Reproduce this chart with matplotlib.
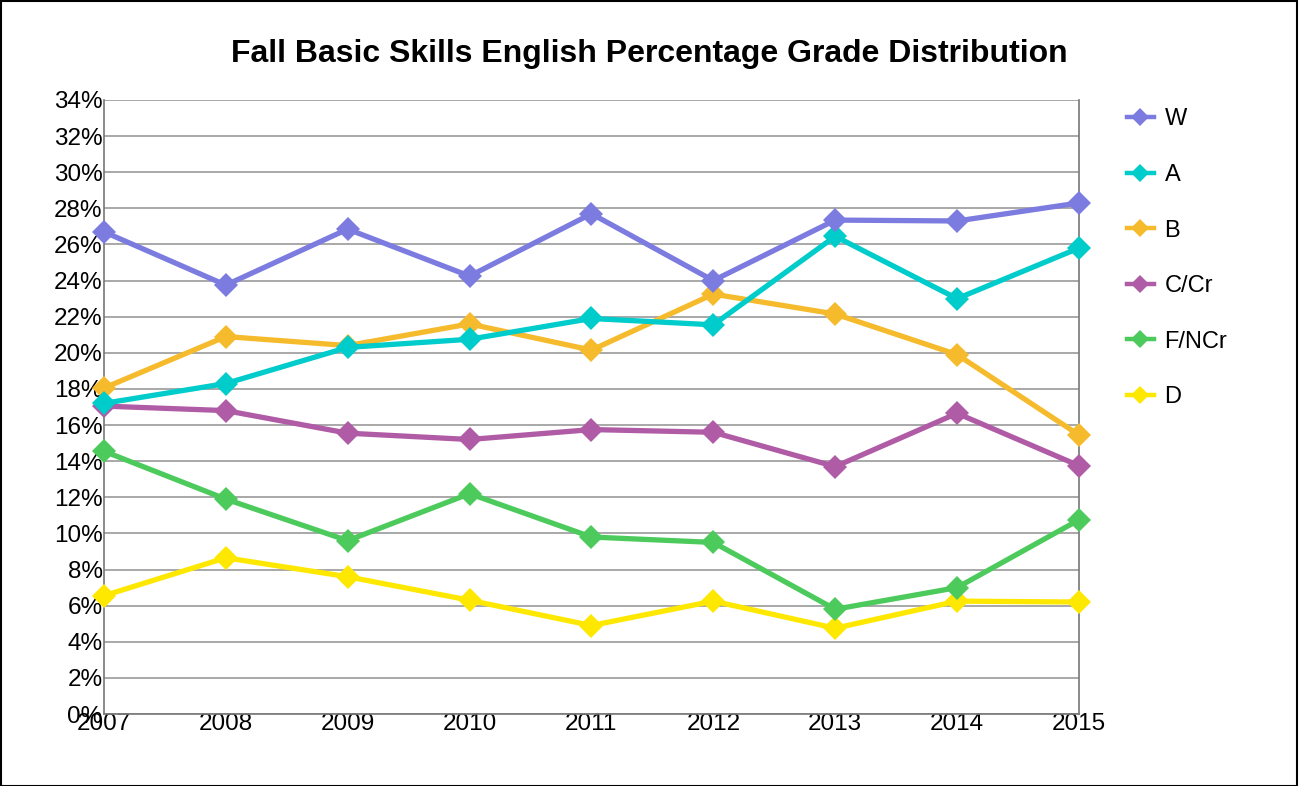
import matplotlib.pyplot as plt
from matplotlib.lines import Line2D
from matplotlib.ticker import FuncFormatter, MultipleLocator

years = [2007, 2008, 2009, 2010, 2011, 2012, 2013, 2014, 2015]

w_vals = [26.7, 23.75, 26.85, 24.25, 27.7, 24.0, 27.35, 27.3, 28.3]
a_vals = [17.2, 18.3, 20.3, 20.75, 21.9, 21.55, 26.45, 23.0, 25.8]
b_vals = [18.05, 20.9, 20.4, 21.6, 20.15, 23.25, 22.15, 19.9, 15.45]
c_vals = [17.05, 16.8, 15.55, 15.2, 15.75, 15.6, 13.7, 16.65, 13.75]
f_vals = [14.55, 11.9, 9.6, 12.2, 9.8, 9.5, 5.8, 7.0, 10.75]
d_vals = [6.55, 8.65, 7.6, 6.3, 4.9, 6.25, 4.75, 6.25, 6.2]

series = [
    ("W", w_vals, "#7b7be0"),
    ("A", a_vals, "#00cccc"),
    ("B", b_vals, "#f6bb2c"),
    ("C/Cr", c_vals, "#b05ba6"),
    ("F/NCr", f_vals, "#4ccb5c"),
    ("D", d_vals, "#ffe800"),
]

plt.rcParams["font.family"] = ["Liberation Sans", "DejaVu Sans"]

fig = plt.figure(figsize=(12.99, 7.86), dpi=100)
ax = fig.add_axes([0.080, 0.0916, 0.7506, 0.7812])

# draw in reverse so the first series sits on top, as in the original
for name, vals, color in reversed(series):
    ax.plot(years, vals, color=color, linewidth=3.8, marker="D", markersize=12.5,
            markeredgewidth=0, clip_on=False, zorder=3)

ax.set_xlim(2007, 2015)
ax.set_ylim(0, 34)
ax.yaxis.set_major_locator(MultipleLocator(2))
ax.yaxis.set_major_formatter(FuncFormatter(lambda v, _: f"{v:.0f}%"))
ax.set_xticks(years)
ax.tick_params(axis="both", length=0, labelsize=17.5, colors="black")
ax.tick_params(axis="x", pad=-1)
ax.tick_params(axis="y", pad=1)
ax.grid(axis="y", color="#9a9a9a", linewidth=1.2)
ax.set_axisbelow(True)
for side in ["left", "right", "bottom"]:
    ax.spines[side].set_color("#777777")
    ax.spines[side].set_linewidth(1.2)
ax.spines["top"].set_visible(False)

fig.text(0.5, 0.931, "Fall Basic Skills English Percentage Grade Distribution",
         ha="center", va="center", fontsize=23, fontweight="bold")

handles = [Line2D([0], [0], color=c, linewidth=3.2, marker="D", markersize=9,
                  markeredgewidth=0) for _, _, c in series]
fig.legend(handles, [s[0] for s in series], loc="upper left",
           bbox_to_anchor=(0.851, 0.889), frameon=False, fontsize=17,
           handlelength=1.15, handletextpad=0.45, labelspacing=1.42)

# outer frame around the chart
fig.patches.append(plt.Rectangle((0.0005, 0.0005), 0.998, 0.998, transform=fig.transFigure,
                                 fill=False, edgecolor="black", linewidth=1.5))

fig.savefig("out.png", dpi=100)
